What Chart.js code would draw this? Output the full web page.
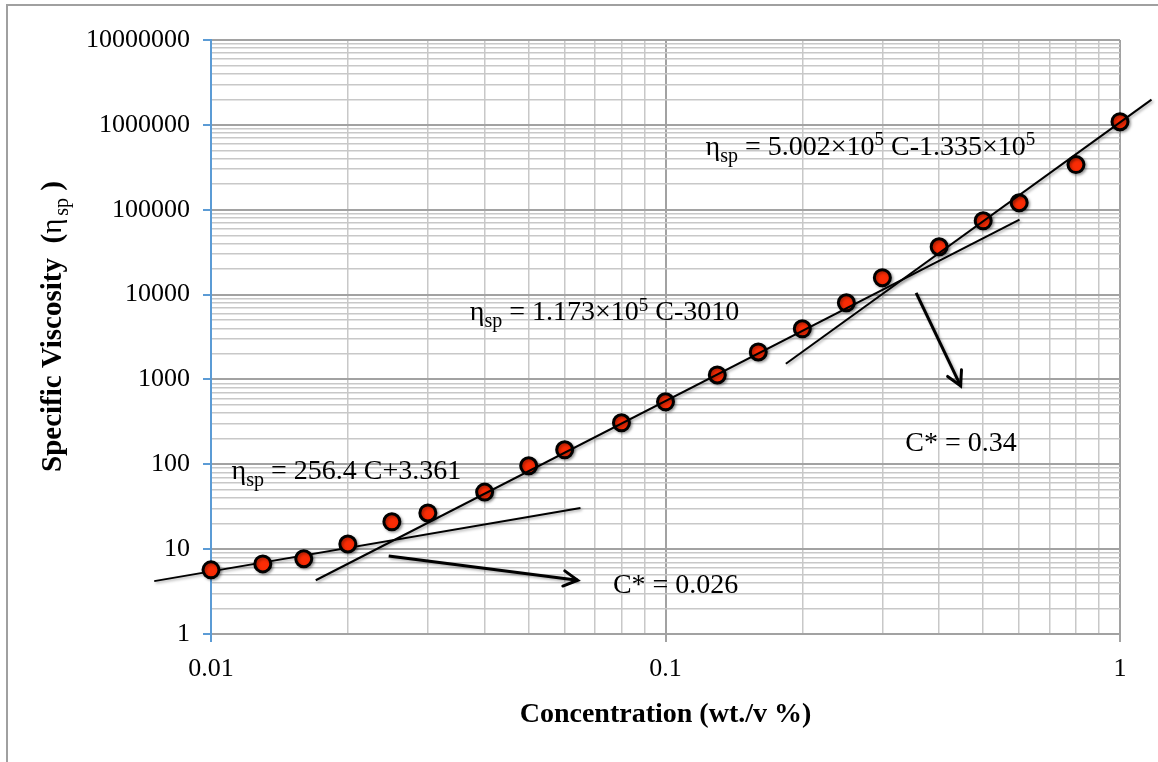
<!DOCTYPE html>
<html>
<head>
<meta charset="utf-8">
<script src="https://cdn.jsdelivr.net/npm/chart.js@4.4.1/dist/chart.umd.min.js"></script>
<style>
  html, body { margin: 0; padding: 0; background: #fff; }
  #frame { position: absolute; left: 6px; top: 4px; width: 1160px; height: 800px; border: 2px solid #a0a0a0; box-sizing: border-box; }
  #wrap { position: absolute; left: 0; top: 0; width: 1158px; height: 762px; }
</style>
</head>
<body>
<div id="frame"></div>
<div id="wrap"><canvas id="viscChart"></canvas></div>
<script>
// measured points
const concentration = [0.01, 0.013, 0.016, 0.02, 0.025, 0.03, 0.04, 0.05, 0.06, 0.08, 0.1,
                       0.13, 0.16, 0.2, 0.25, 0.3, 0.4, 0.5, 0.6, 0.8, 1.0];
const specificViscosity = [5.7, 6.7, 7.7, 11.5, 21, 26.7, 47, 96, 148, 308, 545,
                           1130, 2110, 3950, 8000, 15800, 36600, 74000, 121000, 340000, 1090000];

// fit lines (end points)
const diluteFitX = [0.0075, 0.065];
const diluteFitY = [4.2, 30.6];
const semiFitX = [0.017, 0.601];
const semiFitY = [4.3, 76200];
const concFitX = [0.184, 1.173];
const concFitY = [1528, 1980000];

// arrows pointing to C* labels
const arrow1X = [0.0246, 0.0641];
const arrow1Y = [8.3, 4.3];
const arrow2X = [0.356, 0.446];
const arrow2Y = [10500, 841];

// tick labels
const xTickLabels = ['0.01', '0.1', '1'];
const yTickLabels = ['1', '10', '100', '1000', '10000', '100000', '1000000', '10000000'];

// text notes: anchor (data coords) + pieces [text, 0 normal / -1 sub / 1 sup]
const notes = [
    { x: 0.0111, y: 67, parts: [['η', 0], ['sp', -1], [' = 256.4 C+3.361', 0]] },
    { x: 0.0371, y: 5040, parts: [['η', 0], ['sp', -1], [' = 1.173×10', 0], ['5', 1], [' C-3010', 0]] },
    { x: 0.1225, y: 445000, parts: [['η', 0], ['sp', -1], [' = 5.002×10', 0], ['5', 1], [' C-1.335×10', 0], ['5', 1]] },
    { x: 0.0766, y: 3.04, parts: [['C* = 0.026', 0]] },
    { x: 0.337, y: 144, parts: [['C* = 0.34', 0]] }
];

const SERIF = '"Liberation Serif", "Times New Roman", serif';

function toXY(xs, ys) {
    return xs.map((x, i) => ({ x: x, y: ys[i] }));
}

function logTicks(lo, hi) {
    const out = [];
    for (let e = lo; e < hi; e++) {
        for (let m = 1; m <= 9; m++) out.push(+(m * Math.pow(10, e)).toPrecision(6));
    }
    out.push(Math.pow(10, hi));
    return out;
}

function isDecade(v) {
    const l = Math.log10(v);
    return Math.abs(l - Math.round(l)) < 1e-9;
}

// parts: [text, kind, plain?]; plain pieces ignore the bold flag
function drawParts(ctx, x, y, parts, size, bold, subGap) {
    let cx = x;
    parts.forEach(p => {
        let fs = size, dy = 0;
        if (p[1] === -1) { fs = Math.round(size * 0.7); dy = size * 0.25; cx += subGap || 0; }
        if (p[1] === 1) { fs = Math.round(size * 0.68); dy = -size * 0.33; }
        ctx.font = (bold && !p[2] ? 'bold ' : '') + fs + 'px ' + SERIF;
        ctx.fillText(p[0], cx, y + dy);
        cx += ctx.measureText(p[0]).width;
    });
    return cx - x;
}

const textPlugin = {
    id: 'notesAndArrows',
    beforeDatasetDraw(chart) {
        const ctx = chart.ctx;
        ctx.save();
        ctx.shadowColor = 'rgba(0,0,0,0.35)';
        ctx.shadowBlur = 3;
        ctx.shadowOffsetX = 1.5;
        ctx.shadowOffsetY = 1.5;
    },
    afterDatasetDraw(chart) {
        chart.ctx.restore();
    },
    afterDatasetsDraw(chart) {
        const ctx = chart.ctx;
        const xs = chart.scales.x, ys = chart.scales.y;

        // arrow heads
        chart.data.datasets.forEach((ds, i) => {
            if (!ds.isArrow) return;
            const pts = chart.getDatasetMeta(i).data;
            const a = pts[pts.length - 2], b = pts[pts.length - 1];
            const ang = Math.atan2(b.y - a.y, b.x - a.x);
            const L = 16;
            ctx.save();
            ctx.strokeStyle = '#000';
            ctx.lineWidth = 3;
            ctx.lineCap = 'round';
            ctx.beginPath();
            ctx.moveTo(b.x - L * Math.cos(ang - 0.5), b.y - L * Math.sin(ang - 0.5));
            ctx.lineTo(b.x, b.y);
            ctx.lineTo(b.x - L * Math.cos(ang + 0.5), b.y - L * Math.sin(ang + 0.5));
            ctx.stroke();
            ctx.restore();
        });

        ctx.save();
        ctx.fillStyle = '#000';
        ctx.textBaseline = 'alphabetic';
        ctx.textAlign = 'left';
        notes.forEach(n => {
            drawParts(ctx, xs.getPixelForValue(n.x), ys.getPixelForValue(n.y), n.parts, 28, false);
        });

        // x axis title
        ctx.font = 'bold 28px ' + SERIF;
        ctx.textAlign = 'center';
        ctx.fillText('Concentration (wt./v %)', (chart.chartArea.left + chart.chartArea.right) / 2, 722);

        // y axis title
        ctx.translate(61, 472);
        ctx.rotate(-Math.PI / 2);
        ctx.textAlign = 'left';
        drawParts(ctx, 0, 0, [['Specific Viscosity  (', 0], ['η', 0, true], ['sp', -1, true], [' )', 0]], 29, true, 3);
        ctx.restore();
    }
};

const xTickVals = logTicks(-2, 0);
const yTickVals = logTicks(0, 7);

const ctx = document.getElementById('viscChart').getContext('2d');
const chart = new Chart(ctx, {
    type: 'scatter',
    data: {
        datasets: [
            {
                label: 'arrow 1', data: toXY(arrow1X, arrow1Y), showLine: true, isArrow: true,
                borderColor: '#000', borderWidth: 3, pointRadius: 0, clip: false
            },
            {
                label: 'arrow 2', data: toXY(arrow2X, arrow2Y), showLine: true, isArrow: true,
                borderColor: '#000', borderWidth: 3, pointRadius: 0, clip: false
            },
            {
                label: 'semi-dilute fit', data: toXY(semiFitX, semiFitY), showLine: true,
                borderColor: '#000', borderWidth: 2, pointRadius: 0, clip: false
            },
            {
                label: 'concentrated fit', data: toXY(concFitX, concFitY), showLine: true,
                borderColor: '#000', borderWidth: 2, pointRadius: 0, clip: false
            },
            {
                label: 'Specific viscosity',
                data: toXY(concentration, specificViscosity),
                backgroundColor: '#fa2c05',
                borderColor: '#000',
                borderWidth: 3,
                pointRadius: 8,
                clip: false
            },
            {
                label: 'dilute fit', data: toXY(diluteFitX, diluteFitY), showLine: true,
                borderColor: '#000', borderWidth: 2, pointRadius: 0, clip: false
            }
        ]
    },
    options: {
        responsive: true,
        maintainAspectRatio: false,
        animation: false,
        events: [],
        layout: { padding: { top: 40, right: 38, left: 0, bottom: 0 } },
        plugins: { legend: { display: false }, tooltip: { enabled: false } },
        scales: {
            x: {
                type: 'logarithmic',
                min: 0.01,
                max: 1,
                afterBuildTicks: s => { s.ticks = xTickVals.map(v => ({ value: v })); },
                afterFit: s => { s.height = 128; },
                ticks: {
                    autoSkip: false,
                    maxRotation: 0,
                    padding: 12,
                    color: '#000',
                    font: { family: SERIF, size: 26 },
                    callback: v => isDecade(v) ? xTickLabels[Math.round(Math.log10(v)) + 2] : ''
                },
                grid: {
                    color: c => isDecade(c.tick.value) ? '#a2a2a2' : '#c8c8c8',
                    lineWidth: c => isDecade(c.tick.value) ? 2 : 1.5,
                    tickColor: c => c.tick.value === 0.01 ? '#5b9bd5' : (isDecade(c.tick.value) ? '#a2a2a2' : 'rgba(0,0,0,0)'),
                    tickLength: 8
                },
                border: { color: '#a2a2a2', width: 2 }
            },
            y: {
                type: 'logarithmic',
                min: 1,
                max: 10000000,
                afterBuildTicks: s => { s.ticks = yTickVals.map(v => ({ value: v })); },
                afterFit: s => { s.width = 211; },
                ticks: {
                    autoSkip: false,
                    padding: 13,
                    color: '#000',
                    font: { family: SERIF, size: 26 },
                    callback: v => isDecade(v) ? yTickLabels[Math.round(Math.log10(v))] : ''
                },
                grid: {
                    color: c => isDecade(c.tick.value) ? '#a2a2a2' : '#c8c8c8',
                    lineWidth: c => isDecade(c.tick.value) ? 2 : 1.5,
                    tickColor: c => isDecade(c.tick.value) ? '#5b9bd5' : 'rgba(0,0,0,0)',
                    tickLength: 8
                },
                border: { color: '#5b9bd5', width: 2 }
            }
        }
    },
    plugins: [textPlugin]
});
</script>
</body>
</html>
